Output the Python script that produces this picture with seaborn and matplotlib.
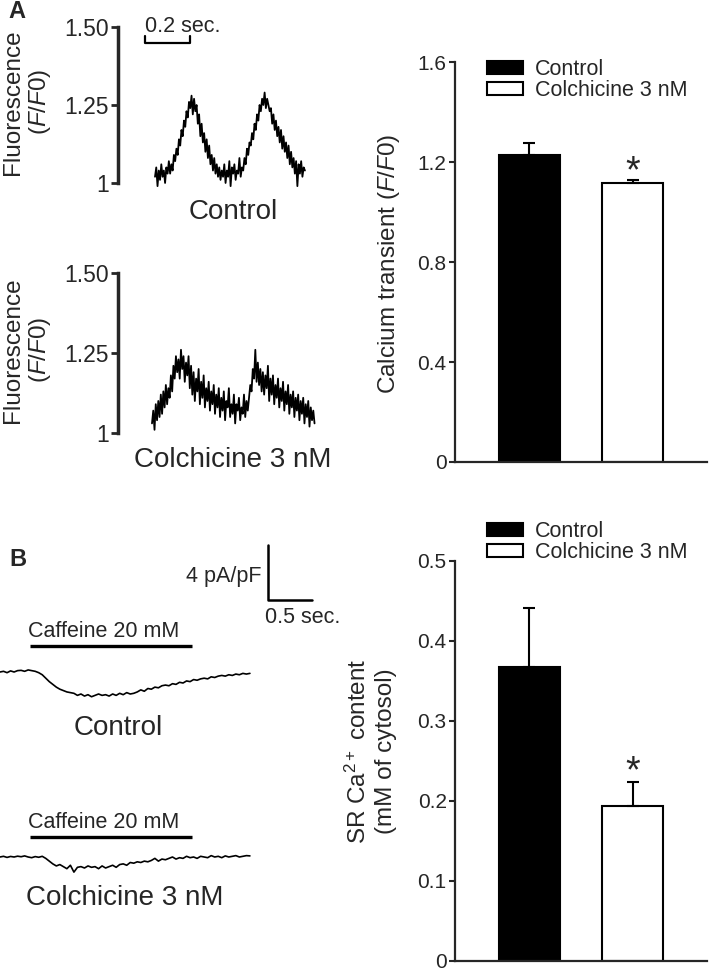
import numpy as np
import pandas as pd
import matplotlib.pyplot as plt
import seaborn as sns
from matplotlib.patches import Patch

sns.set_style('white')
plt.rcParams['font.family'] = ['Liberation Sans', 'DejaVu Sans']
plt.rcParams['mathtext.fontset'] = 'custom'
plt.rcParams['mathtext.rm'] = 'Liberation Sans'
plt.rcParams['mathtext.it'] = 'Liberation Sans:italic'

# ---- data ----
groups = ['Control', 'Colchicine 3 nM']
bar_colors = ['black', 'white']

transient_mean = [1.228, 1.116]   # F/F0
transient_sem = [0.048, 0.012]
sr_mean = [0.367, 0.194]          # mM of cytosol
sr_sem = [0.074, 0.030]

# fluorescence line-scan traces (F/F0), sampled every fluo_dt s
fluo_dt = 0.0056
fluo_control = [
    1.02, 1.05, 0.99, 1.04, 1.01, 1.06, 1.02, 1.04, 1.00, 1.05, 1.03, 1.07, 1.03,
    1.06, 1.04, 1.09, 1.07, 1.11, 1.09, 1.14, 1.12, 1.17, 1.15, 1.20, 1.18, 1.23, 1.21, 1.26,
    1.24, 1.28, 1.22, 1.27, 1.23,
    1.25, 1.19, 1.22, 1.15, 1.19, 1.13, 1.16, 1.10, 1.14, 1.08, 1.12, 1.06, 1.09, 1.04, 1.08, 1.03, 1.06, 1.02,
    1.05, 1.01, 1.04, 1.02, 1.06, 1.00, 1.04, 1.02, 1.07, 0.99, 1.05, 1.03, 1.06, 1.01, 1.04, 1.03, 1.08, 1.02, 1.05, 1.04,
    1.08, 1.06, 1.11, 1.09, 1.13, 1.12, 1.16, 1.14, 1.19, 1.17, 1.22, 1.20, 1.25, 1.23, 1.27, 1.25,
    1.29, 1.24, 1.27, 1.25, 1.23,
    1.24, 1.19, 1.22, 1.17, 1.20, 1.15, 1.18, 1.13, 1.17, 1.11, 1.15, 1.10, 1.13, 1.08, 1.12, 1.06,
    1.10, 1.05, 1.08, 1.03, 1.07, 0.99, 1.06, 1.03, 1.07, 1.02, 1.05, 1.04,
]
fluo_colch = [
    1.03, 1.07, 1.01, 1.09, 1.04, 1.10, 1.05, 1.12, 1.06, 1.13, 1.08, 1.15, 1.09,
    1.14, 1.11, 1.18, 1.13, 1.21, 1.17, 1.24, 1.19,
    1.23, 1.17, 1.26, 1.20, 1.24, 1.16, 1.22, 1.18, 1.24, 1.14,
    1.21, 1.12, 1.19, 1.10, 1.17, 1.13, 1.20, 1.09, 1.16, 1.11, 1.18, 1.08, 1.14, 1.10, 1.16, 1.07, 1.13, 1.09, 1.15, 1.06,
    1.12, 1.08, 1.14, 1.05, 1.11, 1.07, 1.13, 1.04, 1.10, 1.08, 1.14, 1.05, 1.09, 1.06, 1.12, 1.03,
    1.09, 1.07, 1.11, 1.04, 1.08, 1.06, 1.12, 1.05, 1.10, 1.07,
    1.11, 1.15, 1.13, 1.20, 1.17, 1.26,
    1.16, 1.22, 1.15, 1.20, 1.13, 1.19, 1.12, 1.18, 1.14, 1.21, 1.10, 1.17, 1.12, 1.18, 1.09, 1.15,
    1.11, 1.17, 1.08, 1.14, 1.10, 1.16, 1.07, 1.13, 1.09, 1.15, 1.06, 1.12, 1.08, 1.13, 1.05, 1.11,
    1.07, 1.12, 1.04, 1.10, 1.06, 1.11, 1.03, 1.09, 1.05, 1.10, 1.02, 1.08, 1.04, 1.07, 1.03,
]

# caffeine-induced currents (pA/pF), sampled every curr_dt s
curr_dt = 0.04
curr_control = [
    0.0, 0.05, -0.05, 0.08, 0.0, 0.1, 0.12, 0.05, 0.15, 0.1, 0.05,
    -0.05, -0.2, -0.45, -0.7, -0.9, -1.1, -1.25, -1.35,
    -1.45, -1.5, -1.55, -1.7, -1.6, -1.75, -1.65, -1.8, -1.7, -1.6, -1.7, -1.65, -1.75, -1.6,
    -1.7, -1.55, -1.65, -1.5, -1.6, -1.55, -1.45,
    -1.3, -1.4, -1.2, -1.25, -1.1, -1.15, -1.0, -0.95, -1.0, -0.85, -0.9, -0.75, -0.8, -0.65,
    -0.7, -0.55, -0.6, -0.5, -0.45, -0.5, -0.35, -0.4, -0.3, -0.25, -0.3, -0.2, -0.25, -0.15,
    -0.2, -0.1, -0.15, -0.1,
]
curr_colch = [
    0.0, 0.05, -0.03, 0.04, 0.0, 0.06, 0.02, 0.08, 0.0, -0.05, 0.03, -0.02, 0.05, -0.1,
    -0.3, -0.5, -0.65, -0.55,
    -0.7, -0.85, -0.6, -1.1, -0.75, -0.7, -0.8, -0.65, -0.75, -0.7, -0.85, -0.65, -0.8, -0.7, -0.6, -0.75, -0.55,
    -0.5, -0.6, -0.4, -0.45, -0.35, -0.4, -0.3, -0.35, -0.25, -0.1, -0.3,
    -0.15, -0.2, -0.1, 0.0, -0.15, -0.05, -0.1, 0.05, -0.05, 0.0, -0.1, 0.05, 0.0, -0.05, 0.1,
    0.0, 0.05, -0.05, 0.08, 0.0, 0.05, 0.1, 0.0, 0.05, 0.1, 0.08,
]

# scale bars / caffeine application (s, F/F0, pA/pF)
fluo_scale_t = 0.2
curr_scale_t = 0.5
curr_scale_i = 4
caffeine_on, caffeine_off = 0.34, 2.18

# ---- layout helpers (pixel boxes in the 709x973 canvas) ----
W, H = 709, 973
fig = plt.figure(figsize=(W / 100, H / 100), dpi=100)


def box(l, t, r, b):
    return fig.add_axes([l / W, 1 - b / H, (r - l) / W, (b - t) / H])


def ftext(x, y, s, **kw):
    fig.text(x / W, 1 - y / H, s, **kw)


# ---- A: fluorescence traces ----
fluo_px_per_s = 225
for trace, (top, bot), x0, name, label_y in [
        (fluo_control, (27, 183), 155, 'Control', 212),
        (fluo_colch, (273, 433), 152, 'Colchicine 3 nM', 460)]:
    ax = box(118, top, 330, bot)
    t = np.arange(len(trace)) * fluo_dt
    sns.lineplot(x=t, y=trace, ax=ax, color='black', lw=1.3, sort=False, clip_on=False)
    xmin = -(x0 - 118) / fluo_px_per_s
    ax.set_xlim(xmin, xmin + 212 / fluo_px_per_s)
    ax.set_ylim(1.0, 1.5)
    ax.set_yticks([1, 1.25, 1.5])
    ax.set_yticklabels(['1', '1.25', '1.50'])
    ax.set_xticks([])
    sns.despine(ax=ax, bottom=True)
    ax.spines['left'].set_linewidth(2.5)
    ax.tick_params(axis='y', length=5, width=2, pad=1.5, labelsize=16.5, left=True)
    ax.patch.set_visible(False)
    ftext(233, label_y, name, ha='center', va='center', fontsize=20)
    ftext(13, (top + bot) / 2 - 3, 'Fluorescence', rotation=90, ha='center', va='center', fontsize=17.5)
    ftext(40, (top + bot) / 2 - 3, r'($\mathit{F/F0}$)', rotation=90, ha='center', va='center', fontsize=17.5)
    if name == 'Control':
        sb0 = -10 / fluo_px_per_s
        ax.plot([sb0, sb0, sb0 + fluo_scale_t, sb0 + fluo_scale_t], [1.47, 1.449, 1.449, 1.47],
                color='black', lw=1.6, clip_on=False)
        ax.text(sb0, 1.483, '0.2 sec.', ha='left', va='baseline', fontsize=15.5)

# ---- bar panels ----
legend_handles = [Patch(facecolor=c, edgecolor='black', linewidth=1.5) for c in bar_colors]


def bar_panel(top, bot, means, sems, ymax, ticks, ticklabels, legend_top, star_off):
    ax = box(455, top, 707, bot)
    df = pd.DataFrame({'group': groups, 'value': means})
    sns.barplot(data=df, x='group', y='value', hue='group', palette=bar_colors,
                edgecolor='black', linewidth=1.5, width=0.59, legend=False, ax=ax)
    ax.errorbar(x=[0, 1], y=means, yerr=[[0, 0], sems], fmt='none', ecolor='black',
                elinewidth=1.5, capsize=4.3, capthick=1.5, zorder=1)
    ax.text(1, means[1] + sems[1] + star_off, '*', ha='center', va='center', fontsize=27)
    ax.set_xlim(-0.72, 1.72)
    ax.set_ylim(0, ymax)
    ax.set_yticks(ticks)
    ax.set_yticklabels(ticklabels)
    ax.set_xticks([])
    ax.set_xlabel('')
    ax.set_ylabel('')
    sns.despine(ax=ax)
    for s in ['left', 'bottom']:
        ax.spines[s].set_linewidth(1.6)
    ax.tick_params(axis='y', length=4, width=1.5, pad=2, labelsize=15, left=True)
    ax.legend(legend_handles, groups, loc='upper left',
              bbox_to_anchor=(487 / W, 1 - legend_top / H), bbox_transform=fig.transFigure,
              frameon=False, fontsize=15.5, handlelength=1.67, handleheight=0.56,
              handletextpad=0.55, labelspacing=0.0, borderpad=0, borderaxespad=0)
    return ax


bar_panel(62, 462, transient_mean, transient_sem, 1.6,
          [0, 0.4, 0.8, 1.2, 1.6], ['0', '0.4', '0.8', '1.2', '1.6'], 59, 0.03)
ftext(389, 264, r'Calcium transient ($\mathit{F/F0}$)', rotation=90, ha='center', va='center', fontsize=17.5)

bar_panel(561, 961, sr_mean, sr_sem, 0.5,
          [0, 0.1, 0.2, 0.3, 0.4, 0.5], ['0', '0.1', '0.2', '0.3', '0.4', '0.5'], 521, 0.012)
ftext(358, 751, r'SR Ca$^{2+}$ content', rotation=90, ha='center', va='center', fontsize=17.5)
ftext(386, 751, '(mM of cytosol)', rotation=90, ha='center', va='center', fontsize=17.5)

# ---- B: caffeine-induced currents ----
curr_px_per_s = 88
curr_px_per_unit = 13.75
for trace, (top, bot), base, bar_px, name, label_x, label_y in [
        (curr_control, (520, 745), 672, 646, 'Control', 118, 728),
        (curr_colch, (790, 915), 857, 837, 'Colchicine 3 nM', 125, 898)]:
    ax = box(0, top, 330, bot)
    t = np.arange(len(trace)) * curr_dt
    sns.lineplot(x=t, y=trace, ax=ax, color='black', lw=1.2, sort=False, clip_on=False)
    ax.set_xlim(0, 330 / curr_px_per_s)
    ax.set_ylim(-(bot - base) / curr_px_per_unit, (base - top) / curr_px_per_unit)
    ax.axis('off')
    bar_y = (base - bar_px) / curr_px_per_unit
    ax.plot([caffeine_on, caffeine_off], [bar_y, bar_y], color='black', lw=2.4, solid_capstyle='butt')
    ax.text(caffeine_on - 0.02, bar_y + 0.65, 'Caffeine 20 mM', ha='left', va='baseline', fontsize=15.5)
    ftext(label_x, label_y, name, ha='center', va='center', fontsize=20)
    if name == 'Control':
        cx, cy = 268 / curr_px_per_s, (base - 600) / curr_px_per_unit
        ax.plot([cx, cx, cx + curr_scale_t], [cy + curr_scale_i, cy, cy],
                color='black', lw=1.8, clip_on=False)
        ax.text(cx - 0.07, cy + 1.7, '4 pA/pF', ha='right', va='center', fontsize=15.5)
        ax.text(cx - 0.03, cy - 1.25, '0.5 sec.', ha='left', va='center', fontsize=15.5)

# panel letters
ftext(17, 11, 'A', ha='center', va='center', fontsize=17, fontweight='bold')
ftext(18, 560, 'B', ha='center', va='center', fontsize=17, fontweight='bold')

fig.savefig('out.png', dpi=100)
